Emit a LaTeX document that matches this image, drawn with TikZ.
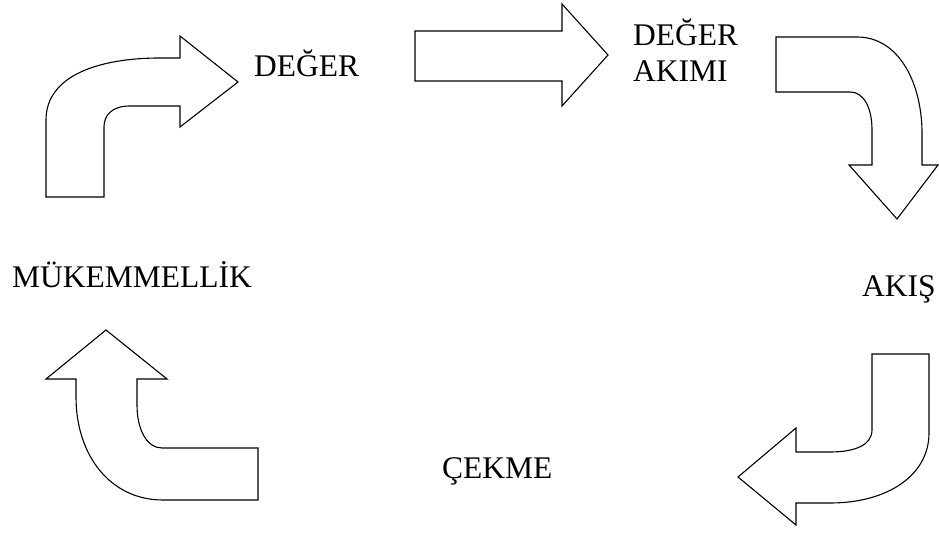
\documentclass[tikz,border=0pt]{standalone}
\usepackage{fontspec}
\setmainfont{Liberation Serif}
\begin{document}
\begin{tikzpicture}[x=1pt,y=-1pt,
  bigarrow/.style={draw=black,line width=1.1pt,fill=white,line join=miter},
  lbl/.style={inner sep=0pt,anchor=base west,font=\fontsize{31.5}{36}\selectfont}]
\useasboundingbox (0,0) rectangle (939,534);
% arrow 1: up then right
\draw[bigarrow] (46,197) -- (46,120) .. controls (46,75) and (100,58) .. (160,58) -- (180,58) -- (180,36) -- (238,82) -- (180,127) -- (180,106) -- (130,106) .. controls (112,106) and (104,115) .. (104,127) -- (104,197) -- cycle;
% straight arrow
\draw[bigarrow] (415,31) -- (562,31) -- (562,4) -- (608,55) -- (562,106) -- (562,81) -- (415,81) -- cycle;
% arrow 3: right then down
\draw[bigarrow] (776,37) -- (857,37) .. controls (900,37) and (922,85) .. (922,133) -- (922,165) -- (938,165) -- (897,219) -- (849,165) -- (872,165) -- (872,130) .. controls (872,108) and (864,92) .. (850,92) -- (776,92) -- cycle;
% arrow 4: down then left
\draw[bigarrow] (872,354) -- (929,354) -- (929,433) .. controls (929,475) and (888,503) .. (830,503) -- (796,503) -- (796,525) -- (738,477) -- (796,428) -- (796,452) -- (830,452) .. controls (855,452) and (872,445) .. (872,430) -- cycle;
% arrow 5: left then up
\draw[bigarrow] (258,448) -- (258,500) -- (163,500) .. controls (110,500) and (76,455) .. (76,397) -- (76,379) -- (46,379) -- (106,330) -- (167,379) -- (137,379) -- (137,405) .. controls (137,430) and (147,448) .. (162,448) -- cycle;
% labels
\node[lbl] (deger) at (254,77) {DEĞER};
\node[lbl,align=left] (akim) at (633,82) {DEĞER\\AKIMI};
\node[lbl] (akis) at (862,297) {AKIŞ};
\node[lbl] (cekme) at (442,478) {ÇEKME};
\node[lbl] (mukem) at (12,288) {MÜKEMMELLİK};
\end{tikzpicture}
\end{document}
